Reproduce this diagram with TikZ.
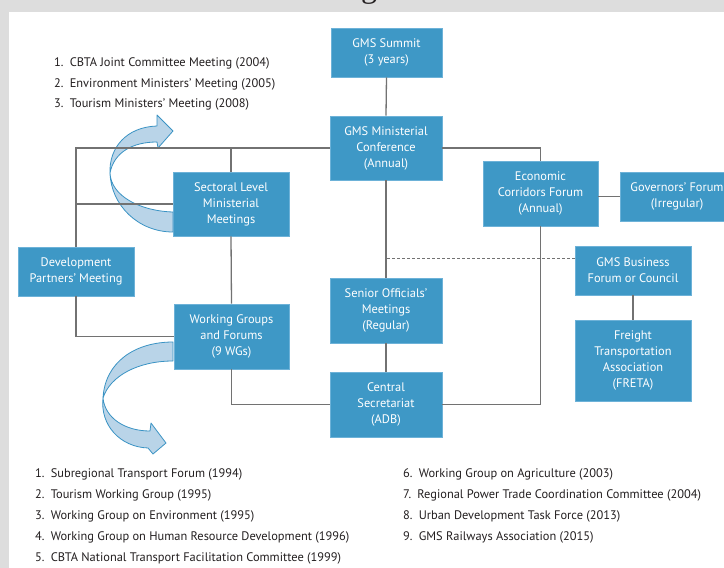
\documentclass[tikz,border=0pt]{standalone}
\usepackage{fontspec}
\setmainfont{PT Sans}
\newfontfamily\titlefont{Liberation Serif}
\usetikzlibrary{calc}
\definecolor{bggrey}{HTML}{DDDDDD}
\definecolor{boxblue}{HTML}{3E98C6}
\definecolor{boxedge}{HTML}{6DB2D8}
\definecolor{linegrey}{HTML}{727272}
\definecolor{arrowfill}{HTML}{B9D4E8}
\definecolor{arrowedge}{HTML}{3A93C4}
\definecolor{textdark}{HTML}{231F20}
\begin{document}
\begin{tikzpicture}[x=1pt,y=-1pt,
  box/.style={rectangle, fill=boxblue, draw=boxedge, line width=0.6pt, text=white,
    align=center, font=\fontsize{12.4}{16}\selectfont, inner sep=0pt},
  conn/.style={draw=linegrey, line width=1.3pt},
  ribbon/.style={fill=arrowfill, draw=arrowedge, line width=0.8pt, line join=round},
  item/.style={anchor=west, font=\fontsize{12.4}{14}\selectfont, text=textdark, inner sep=0pt}]
\clip (0,0) rectangle (724,568);
\fill[bggrey] (0,0) rectangle (724,568);
\fill[white] (9,12) rectangle (724,568);
\begin{scope}
\clip (0,0) rectangle (724,12);
\node[anchor=base west, inner sep=0pt, text=textdark, font=\titlefont\fontsize{32}{32}\selectfont] (title) at (361,-3) {g};
\end{scope}

% boxes
\node[box, minimum width=111, minimum height=49] (summit) at (386.5,52.5) {GMS Summit\\(3 years)};
\node[box, minimum width=112, minimum height=64] (minist) at (386,148) {GMS Ministerial\\Conference\\(Annual)};
\node[box, minimum width=115, minimum height=65] (econ) at (540.5,193.5) {Economic\\Corridors Forum\\(Annual)};
\node[box, minimum width=114, minimum height=49] (gov) at (677,196.5) {Governors' Forum\\(Irregular)};
\node[box, minimum width=116, minimum height=64] (sect) at (231,204) {Sectoral Level\\Ministerial\\Meetings};
\node[box, minimum width=116, minimum height=49] (dev) at (76,271.5) {Development\\Partners' Meeting};
\node[box, minimum width=115, minimum height=65] (wg) at (231.5,336.5) {Working Groups\\and Forums\\(9 WGs)};
\node[box, minimum width=112, minimum height=65] (senior) at (386,310.5) {Senior Officials'\\Meetings\\(Regular)};
\node[box, minimum width=112, minimum height=65] (central) at (386,404.5) {Central\\Secretariat\\(ADB)};
\node[box, minimum width=116, minimum height=49] (biz) at (633,270.5) {GMS Business\\Forum or Council};
\node[box, minimum width=116, minimum height=81] (freta) at (633,360.5) {Freight\\Transportation\\Association\\(FRETA)};

% ribbons (curved arrows)
\path[ribbon] (173,212) .. controls (140,211) and (111,196) .. (110,173)
  .. controls (111,205) and (138,232) .. (173,232) -- cycle;
\path[ribbon] (110,173) .. controls (109,148) and (126,127) .. (157,126)
  -- (157,115) -- (173,131) -- (158,148) -- (157,142)
  .. controls (133,142) and (114,152) .. (110,173) -- cycle;
\path[ribbon] (173,342) .. controls (135,342) and (105,362) .. (103,398)
  .. controls (110,376) and (138,361) .. (173,361) -- cycle;
\path[ribbon] (103,398) .. controls (105,418) and (125,431) .. (150,431)
  -- (151,423) -- (166,443) -- (153,454) -- (148,448)
  .. controls (120,447) and (100,425) .. (103,398) -- cycle;

% connectors
\draw[conn] (summit.south) -- (minist.north);
\draw[conn] (minist.east) -| (econ.north);
\draw[conn] (minist.west) -| (dev.north);
\draw[conn] (sect.north) -- (sect.north |- minist.west);
\draw[conn] (sect.west) -- (dev.north |- sect.west);
\draw[conn] (sect.south) -- (wg.north);
\draw[conn] (dev.south) |- (wg.west);
\draw[conn] (wg.south) |- (central.west);
\draw[conn] (minist.south) -- (senior.north);
\draw[conn] (senior.south) -- (central.north);
\draw[conn] (econ.south) |- (central.east);
\draw[conn] (gov.west) -- (gov.west -| econ.east);
\draw[conn] (biz.south) -- (freta.north);
\coordinate (dashend) at ($(biz.north west)!0.265!(biz.south west)$);
\draw[draw=linegrey, line width=1.1pt, dash pattern=on 3pt off 2pt] (dashend) -- (dashend -| minist.south);

% top list
\node[item] (t1) at (54,63) {1.\enspace CBTA Joint Committee Meeting (2004)};
\node[item] (t2) at (54,84) {2.\enspace Environment Ministers' Meeting (2005)};
\node[item] (t3) at (54,104) {3.\enspace Tourism Ministers' Meeting (2008)};

% bottom list
\node[item] (b1) at (35,474) {1.\enspace Subregional Transport Forum (1994)};
\node[item] (b2) at (35,495) {2.\enspace Tourism Working Group (1995)};
\node[item] (b3) at (35,516) {3.\enspace Working Group on Environment (1995)};
\node[item] (b4) at (35,537) {4.\enspace Working Group on Human Resource Development (1996)};
\node[item] (b5) at (35,558) {5.\enspace CBTA National Transport Facilitation Committee (1999)};
\node[item] (b6) at (403,474) {6.\enspace Working Group on Agriculture (2003)};
\node[item] (b7) at (403,495) {7.\enspace Regional Power Trade Coordination Committee (2004)};
\node[item] (b8) at (403,516) {8.\enspace Urban Development Task Force (2013)};
\node[item] (b9) at (403,537) {9.\enspace GMS Railways Association (2015)};
\end{tikzpicture}
\end{document}
